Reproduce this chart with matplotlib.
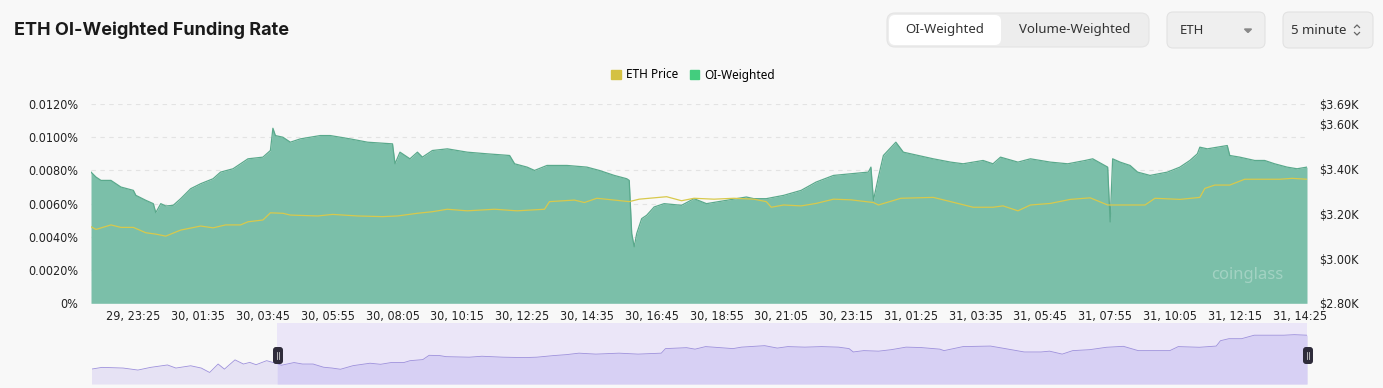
import matplotlib
matplotlib.use('Agg')
import pandas as pd
import matplotlib.pyplot as plt
import matplotlib.dates as mdates
from matplotlib.patches import FancyBboxPatch, Patch

# ---- data (funding in %, price in $K) ----
fr_time = [
    "29 22:00", "29 22:10", "29 22:20", "29 22:40", "29 22:50", "29 23:00", "29 23:25", "29 23:30", "29 23:50",
    "30 00:05", "30 00:10", "30 00:20", "30 00:30", "30 00:45", "30 01:00", "30 01:20", "30 01:40", "30 02:05",
    "30 02:20", "30 02:45", "30 03:15", "30 03:45", "30 04:00", "30 04:05", "30 04:10", "30 04:25", "30 04:40",
    "30 05:00", "30 05:40", "30 06:00", "30 06:40", "30 07:15", "30 08:05", "30 08:10", "30 08:20", "30 08:40",
    "30 08:55", "30 09:05", "30 09:25", "30 09:55", "30 10:35", "30 11:15", "30 12:00", "30 12:10", "30 12:35",
    "30 12:50", "30 13:15", "30 13:55", "30 14:35", "30 15:00", "30 15:30", "30 15:55", "30 16:00", "30 16:05",
    "30 16:10", "30 16:15", "30 16:25", "30 16:35", "30 16:50", "30 17:10", "30 17:45", "30 18:10", "30 18:35",
    "30 19:15", "30 19:55", "30 20:10", "30 20:35", "30 21:10", "30 21:45", "30 22:15", "30 22:50", "30 23:25",
    "31 00:00", "31 00:05", "31 00:10", "31 00:20", "31 00:30", "31 00:55", "31 01:10", "31 01:40", "31 02:10",
    "31 02:45", "31 03:10", "31 03:50", "31 04:10", "31 04:25", "31 05:00", "31 05:25", "31 06:05", "31 06:40",
    "31 07:15", "31 07:30", "31 08:00", "31 08:05", "31 08:10", "31 08:25", "31 08:45", "31 09:00", "31 09:25",
    "31 10:00", "31 10:25", "31 10:45", "31 11:00", "31 11:05", "31 11:20", "31 12:00", "31 12:05", "31 12:25",
    "31 12:55", "31 13:15", "31 13:35", "31 14:00", "31 14:20", "31 14:40",
]
fr_value = [
    0.0079, 0.0076, 0.0074, 0.0074, 0.0072, 0.0070, 0.0068, 0.0065, 0.0062,
    0.0060, 0.00546, 0.0060, 0.00586, 0.0059, 0.0063, 0.0069, 0.0072, 0.0075,
    0.0079, 0.0081, 0.0087, 0.0088, 0.0092, 0.01054, 0.0101, 0.0100, 0.0097,
    0.0099, 0.0101, 0.0101, 0.0099, 0.0097, 0.0096, 0.0084, 0.0091, 0.0087,
    0.0091, 0.0088, 0.0092, 0.0093, 0.0091, 0.0090, 0.0089, 0.0084, 0.0082,
    0.0080, 0.0083, 0.0083, 0.0082, 0.0080, 0.0077, 0.0075, 0.0074, 0.0042,
    0.0034, 0.0042, 0.0051, 0.0053, 0.0058, 0.0060, 0.0059, 0.0063, 0.0060,
    0.0062, 0.0064, 0.0063, 0.0063, 0.0065, 0.0068, 0.0073, 0.0077, 0.0078,
    0.0079, 0.0082, 0.0062, 0.0076, 0.0089, 0.0097, 0.0091, 0.0089, 0.0087,
    0.0085, 0.0084, 0.0086, 0.0084, 0.0088, 0.0085, 0.0087, 0.0085, 0.0084,
    0.0086, 0.0087, 0.0082, 0.0049, 0.0087, 0.0085, 0.0083, 0.0079, 0.0077,
    0.0079, 0.0082, 0.0086, 0.0090, 0.0094, 0.0093, 0.0095, 0.0089, 0.0088,
    0.0086, 0.0086, 0.0084, 0.0082, 0.0081, 0.0082,
]

px_time = [
    "29 22:00", "29 22:10", "29 22:40", "29 23:00", "29 23:25", "29 23:50", "30 00:10", "30 00:30", "30 01:00",
    "30 01:40", "30 02:05", "30 02:30", "30 03:00", "30 03:15", "30 03:45", "30 04:00", "30 04:25", "30 04:40",
    "30 05:35", "30 06:05", "30 06:55", "30 07:45", "30 08:15", "30 08:55", "30 09:25", "30 09:55", "30 10:35",
    "30 11:30", "30 12:15", "30 13:10", "30 13:20", "30 14:10", "30 14:30", "30 14:55", "30 15:30", "30 16:00",
    "30 16:20", "30 17:15", "30 17:45", "30 18:10", "30 18:50", "30 19:30", "30 20:10", "30 20:35", "30 20:45",
    "30 21:10", "30 21:45", "30 22:15", "30 22:50", "30 23:25", "31 00:10", "31 00:20", "31 01:05", "31 02:10",
    "31 02:45", "31 03:30", "31 04:10", "31 04:30", "31 05:00", "31 05:25", "31 06:05", "31 06:45", "31 07:25",
    "31 08:00", "31 08:40", "31 09:15", "31 09:35", "31 10:25", "31 11:05", "31 11:15", "31 11:35", "31 12:05",
    "31 12:35", "31 13:05", "31 13:45", "31 14:10", "31 14:40",
]
px_value = [
    3.142, 3.130, 3.150, 3.139, 3.139, 3.115, 3.109, 3.100, 3.127,
    3.145, 3.137, 3.150, 3.150, 3.164, 3.172, 3.204, 3.202, 3.194,
    3.190, 3.197, 3.190, 3.187, 3.190, 3.202, 3.209, 3.220, 3.213,
    3.220, 3.213, 3.220, 3.254, 3.261, 3.250, 3.269, 3.261, 3.254,
    3.265, 3.276, 3.258, 3.269, 3.265, 3.269, 3.265, 3.254, 3.229,
    3.239, 3.235, 3.246, 3.265, 3.262, 3.250, 3.239, 3.269, 3.273,
    3.254, 3.229, 3.229, 3.235, 3.213, 3.239, 3.246, 3.264, 3.271,
    3.239, 3.239, 3.239, 3.269, 3.264, 3.273, 3.313, 3.328, 3.328,
    3.354, 3.354, 3.354, 3.358, 3.354,
]

# navigator shows the price from earlier on the 29th as well
nav_time = ["29 14:40", "29 15:05", "29 15:55", "29 16:30", "29 17:00", "29 17:40", "29 18:00", "29 18:35",
            "29 19:00", "29 19:20", "29 19:40", "29 19:55", "29 20:20", "29 20:40", "29 20:55", "29 21:10",
            "29 21:35"]
nav_value = [3.101, 3.114, 3.109, 3.094, 3.114, 3.132, 3.109, 3.126,
             3.109, 3.076, 3.139, 3.101, 3.170, 3.139, 3.151, 3.134,
             3.164]

left_ticks = [0, 0.002, 0.004, 0.006, 0.008, 0.010, 0.012]
right_ticks = [2.80, 3.00, 3.20, 3.40, 3.60, 3.69]
x_tick_start = "29 23:25"
x_tick_step = "130min"
x_tick_count = 19


def to_dt(lst):
    return pd.to_datetime(["2024-12-" + s for s in lst])


fr_t = to_dt(fr_time)
px_t = to_dt(px_time)
nav_t = to_dt(nav_time)
assert len(fr_t) == len(fr_value) and len(px_t) == len(px_value)

W, H = 1383, 388
BG = '#f8f8f8'
UI_FONT = ['Noto Sans', 'DejaVu Sans']

fig = plt.figure(figsize=(W / 100, H / 100), dpi=100)
fig.patch.set_facecolor(BG)


def rect(x0, y0, x1, y1):
    # pixel box (top-left origin) -> figure fraction
    return [x0 / W, 1 - y1 / H, (x1 - x0) / W, (y1 - y0) / H]


# ---- main chart ----
ax = fig.add_axes(rect(91, 104, 1307, 303.3))
ax.set_facecolor(BG)
ax.fill_between(fr_t, 0, fr_value, color='#7bbfa9', lw=0, zorder=2)
ax.plot(fr_t, fr_value, color='#5aa98c', lw=0.9, zorder=3)
ax.set_ylim(0, 0.012)
ax.set_yticks(left_ticks)
ax.set_yticklabels(['0%' if v == 0 else f'{v:.4f}%' for v in left_ticks])
ax.grid(axis='y', color='#e3e3e3', lw=0.8, linestyle=(0, (4, 4)), zorder=1)
ax.set_axisbelow(True)

ax2 = ax.twinx()
ax2.plot(px_t, px_value, color='#d8c94c', lw=0.9, zorder=4)
ax2.set_ylim(2.80, 3.69)
ax2.set_yticks(right_ticks)
ax2.set_yticklabels([f'${v:.2f}K' for v in right_ticks])

xticks = pd.date_range("2024-12-" + x_tick_start, periods=x_tick_count, freq=x_tick_step)
x0, x1 = fr_t[0], fr_t[-1]
for a in (ax, ax2):
    a.set_xlim(x0, x1)
    for s in a.spines.values():
        s.set_visible(False)
    a.tick_params(length=0, labelsize=9, colors='#222222')
ax.tick_params(axis='y', pad=9)
ax2.tick_params(axis='y', pad=9)
ax.tick_params(axis='x', pad=5)
ax.set_xticks(xticks)
ax.xaxis.set_major_formatter(mdates.DateFormatter('%d, %H:%M'))
for lab in ax.get_xticklabels() + ax.get_yticklabels() + ax2.get_yticklabels():
    lab.set_family('DejaVu Sans')
    lab.set_stretch('condensed')

ax.text(0.951, 0.14, 'coinglass', transform=ax.transAxes, ha='center', va='center',
        fontsize=12, fontweight='bold', color='white', alpha=0.3, family=UI_FONT, zorder=5)

# ---- navigator ----
nav = fig.add_axes(rect(91.5, 323, 1307, 384))
nav.set_facecolor(BG)
nav.axvspan(x0, x1, color='#ebe6f8', lw=0, zorder=0)
all_t = list(nav_t) + list(px_t)
all_v = nav_value + px_value
nav.fill_between(all_t, 2.99, all_v, color='#e6e2f4', lw=0, zorder=1)
nav.fill_between(px_t, 2.99, px_value, color='#d7d0f4', lw=0, zorder=2)
nav.plot(all_t, all_v, color='#9d90dc', lw=0.6, zorder=3)
nav.set_xlim(nav_t[0], x1)
nav.set_ylim(2.99, 3.445)
nav.axis('off')

# ---- overlay for title, controls, legend, handles ----
ov = fig.add_axes([0, 0, 1, 1], facecolor='none')
ov.set_xlim(0, W)
ov.set_ylim(H, 0)
ov.axis('off')

ov.text(14, 30, 'ETH OI-Weighted Funding Rate', fontsize=13, fontweight='bold',
        color='#1a1a1a', va='center', ha='left', family=['Inter', 'DejaVu Sans'])

ov.add_patch(FancyBboxPatch((887, 13), 262, 34, boxstyle='round,pad=0,rounding_size=8',
                            fc='#ededed', ec='#e4e4e4', lw=0.8))
ov.add_patch(FancyBboxPatch((889, 15), 112, 30, boxstyle='round,pad=0,rounding_size=6',
                            fc='white', ec='none'))
ov.text(945, 30, 'OI-Weighted', fontsize=9.5, color='#333333', ha='center', va='center', family=UI_FONT)
ov.text(1075, 30, 'Volume-Weighted', fontsize=9.5, color='#333333', ha='center', va='center', family=UI_FONT)

ov.add_patch(FancyBboxPatch((1167, 12), 98, 36, boxstyle='round,pad=0,rounding_size=6',
                            fc='#efefef', ec='#e2e2e2', lw=0.8))
ov.text(1180, 30, 'ETH', fontsize=9.5, color='#333333', ha='left', va='center', family=UI_FONT)
ov.fill([1244.5, 1251.5, 1248], [29, 29, 32.5], color='#888888')

ov.add_patch(FancyBboxPatch((1283, 12), 90, 36, boxstyle='round,pad=0,rounding_size=6',
                            fc='#efefef', ec='#e2e2e2', lw=0.8))
ov.text(1291, 30, '5 minute', fontsize=9.5, color='#333333', ha='left', va='center', family=UI_FONT)
ov.plot([1354.5, 1357, 1359.5], [27.5, 25, 27.5], color='#666666', lw=0.9)
ov.plot([1354.5, 1357, 1359.5], [32.5, 35, 32.5], color='#666666', lw=0.9)

handles = [Patch(color='#d4c143', label='ETH Price'), Patch(color='#43cd7e', label='OI-Weighted')]
fig.legend(handles=handles, loc='center', bbox_to_anchor=(693 / W, 1 - 75 / H), ncol=2, frameon=False,
           handlelength=0.8, handleheight=0.8, handletextpad=0.4, columnspacing=1.0,
           prop={'family': UI_FONT, 'size': 8.5})

for hx in (278, 1308):
    ov.add_patch(FancyBboxPatch((hx - 5, 347), 10, 17, boxstyle='round,pad=0,rounding_size=3',
                                fc='#2f2c3b', ec='none', zorder=10))
    ov.plot([hx - 1.2, hx - 1.2], [352, 359], color='#cccccc', lw=0.6, zorder=11)
    ov.plot([hx + 1.2, hx + 1.2], [352, 359], color='#cccccc', lw=0.6, zorder=11)

fig.savefig('out.png', dpi=100, facecolor=BG)
